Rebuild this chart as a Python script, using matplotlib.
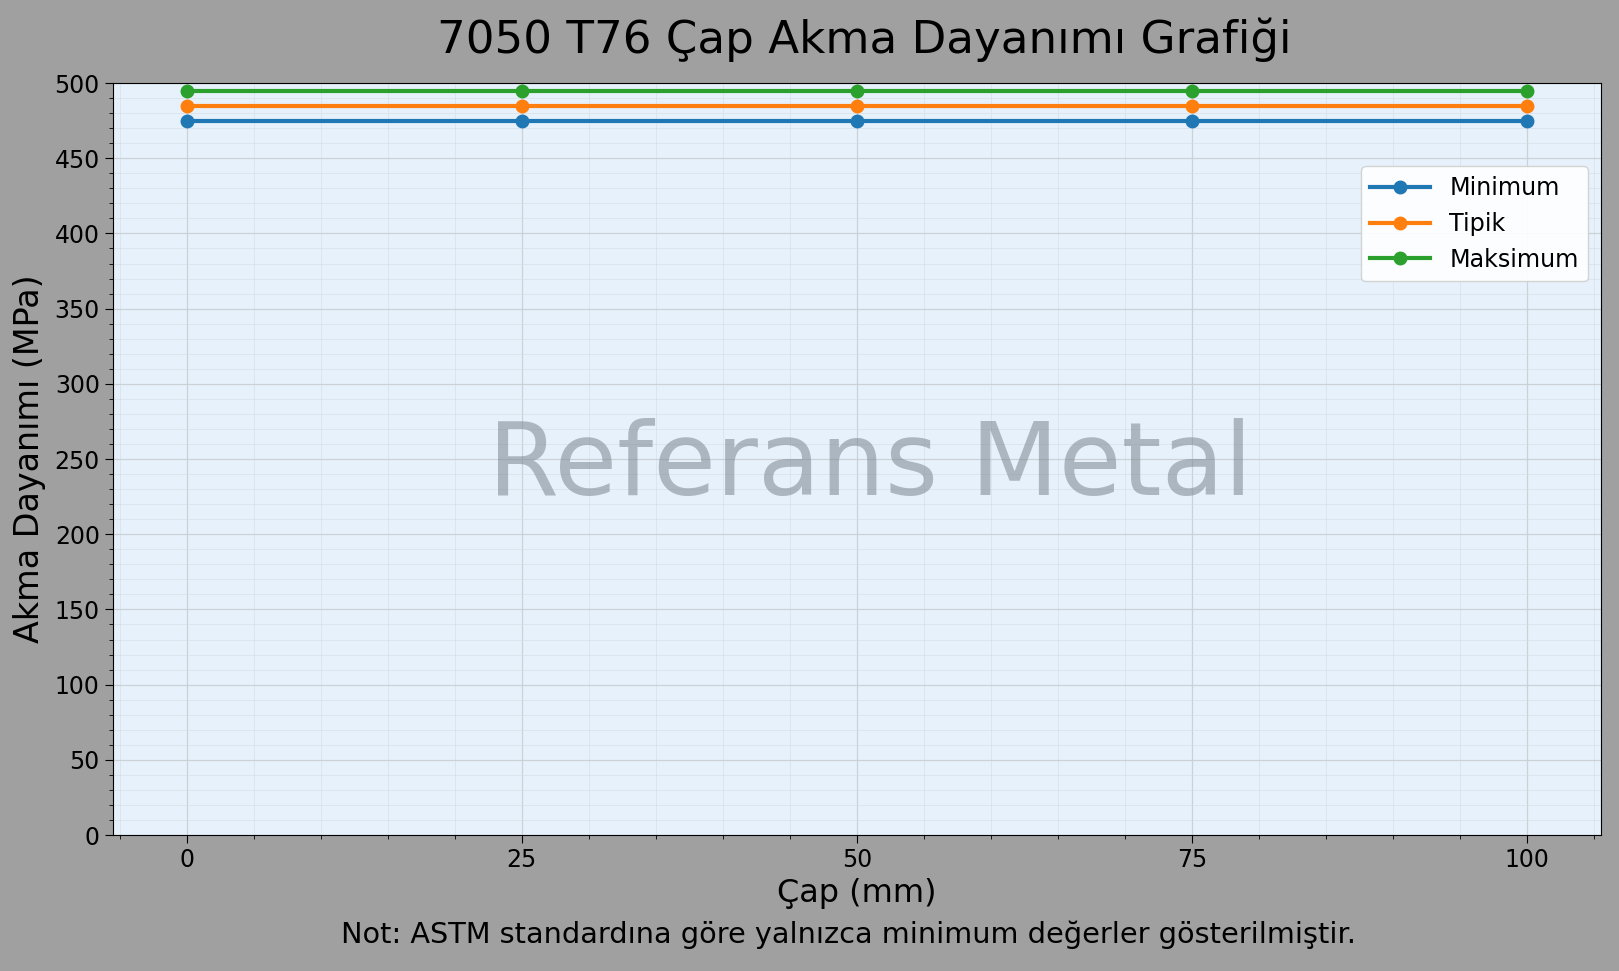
import matplotlib
matplotlib.use("Agg")
import matplotlib.pyplot as plt
from matplotlib.ticker import MultipleLocator

diameters = [0, 25, 50, 75, 100]
minimum = [475, 475, 475, 475, 475]
typical = [485, 485, 485, 485, 485]
maximum = [495, 495, 495, 495, 495]
series_names = ["Minimum", "Tipik", "Maksimum"]

title = "7050 T76 Çap Akma Dayanımı Grafiği"
xlabel = "Çap (mm)"
ylabel = "Akma Dayanımı (MPa)"
note = "Not: ASTM standardına göre yalnızca minimum değerler gösterilmiştir."
watermark = "Referans Metal"

plt.rcParams['font.family'] = ['DejaVu Sans']

fig = plt.figure(figsize=(16.19, 9.71), dpi=100, facecolor="#a0a0a0")
ax = fig.add_axes([0.0698, 0.140, 0.919, 0.7745])
ax.set_facecolor("#e6f1fb")

colors = ["#1f77b4", "#ff7f0e", "#2ca02c"]
for vals, name, c in zip([minimum, typical, maximum], series_names, colors):
    ax.plot(diameters, vals, marker="o", color=c, linewidth=3, markersize=9, label=name)

ax.set_xlim(-5.5, 105.5)
ax.set_ylim(0, 500)
ax.xaxis.set_major_locator(MultipleLocator(25))
ax.xaxis.set_minor_locator(MultipleLocator(5))
ax.yaxis.set_major_locator(MultipleLocator(50))
ax.yaxis.set_minor_locator(MultipleLocator(10))
ax.grid(which="major", color="#c8ced4", linewidth=0.9, alpha=0.9)
ax.grid(which="minor", color="#d4dde6", linewidth=0.6, alpha=0.7)
ax.set_axisbelow(True)
ax.tick_params(axis="both", which="major", labelsize=17, length=6)
ax.tick_params(axis="both", which="minor", length=3)

ax.text(0.509, 0.49, watermark, transform=ax.transAxes, fontsize=73.5,
        color="#7c8690", alpha=0.55, ha="center", va="center", zorder=5)

fig.text(0.534, 0.959, title, fontsize=32.5, ha="center", va="center")
ax.set_xlabel(xlabel, fontsize=23, labelpad=4)
ax.set_ylabel(ylabel, fontsize=24, labelpad=6)
fig.text(0.524, 0.037, note, ha="center", va="center", fontsize=20.7)

leg = ax.legend(loc="upper right", bbox_to_anchor=(0.9995, 0.905), fontsize=17.2,
                framealpha=0.9, edgecolor="#d0d0d0", handlelength=2.5)

fig.savefig("out.png", dpi=100, facecolor=fig.get_facecolor())
